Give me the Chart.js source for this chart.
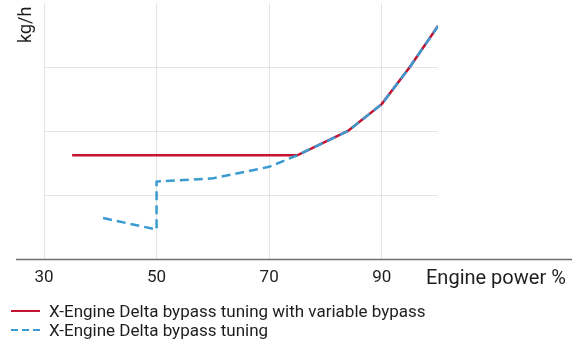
<!DOCTYPE html>
<html>
<head>
<meta charset="utf-8">
<script src="https://cdn.jsdelivr.net/npm/chart.js@4/dist/chart.umd.min.js"></script>
<style>
  html, body { margin: 0; padding: 0; background: #fff; }
  #wrap { position: relative; width: 574px; height: 350px; font-family: Roboto, sans-serif; color: #1e1e1e; }
  #chart_fuel { position: absolute; left: 0; top: 0; }
  #legend { position: absolute; left: 11px; top: 302px; font-size: 17px; line-height: 18.5px; }
  #legend .item { display: flex; align-items: center; white-space: nowrap; }
  #legend svg { margin-right: 9px; }
</style>
</head>
<body>
<div id="wrap">
  <canvas id="chart_fuel" width="574" height="350"></canvas>
  <div id="legend"></div>
</div>
<script>
// engine power %, kg/h (no y tick labels in the original)
var variableBypassPower = [35, 75, 84, 90, 95, 100];
var variableBypassFuel  = [1.62, 1.62, 2.0, 2.42, 3.0, 3.64];
var bypassPower = [40.5, 50, 50, 60, 70, 75, 84, 90, 95, 100];
var bypassFuel  = [0.64, 0.46, 1.21, 1.26, 1.44, 1.62, 2.0, 2.42, 3.0, 3.64];
var xTickLabels = [30, 50, 70, 90];
var seriesNames = ['X-Engine Delta bypass tuning with variable bypass', 'X-Engine Delta bypass tuning'];

var red = '#c41230';
var blue = '#3b9bd1';

function toPoints(xs, ys) {
    return xs.map(function (x, i) { return { x: x, y: ys[i] }; });
}

var chart_fuel = new Chart(document.getElementById('chart_fuel'), {
    type: 'line',
    data: {
        datasets: [
            {
                label: seriesNames[1],
                data: toPoints(bypassPower, bypassFuel),
                borderColor: blue,
                borderWidth: 2.5,
                borderDash: [9, 5],
                pointRadius: 0,
                tension: 0,
                order: 0
            },
            {
                label: seriesNames[0],
                data: toPoints(variableBypassPower, variableBypassFuel),
                borderColor: red,
                borderWidth: 2.5,
                pointRadius: 0,
                tension: 0,
                order: 1
            }
        ]
    },
    options: {
        animation: false,
        responsive: false,
        layout: { padding: { left: 0, right: 136, top: 3, bottom: 0 } },
        plugins: {
            legend: { display: false },
            tooltip: { enabled: false }
        },
        scales: {
            x: {
                type: 'linear',
                min: 30,
                max: 100,
                afterBuildTicks: function (scale) {
                    scale.ticks = xTickLabels.map(function (v) { return { value: v }; });
                },
                afterFit: function (scale) { scale.height = 91; },
                grid: { color: '#e4e4e4', lineWidth: 1, drawTicks: false },
                border: { display: false },
                ticks: {
                    padding: 9,
                    color: '#1e1e1e',
                    font: { family: 'Roboto', size: 17 },
                    maxRotation: 0
                }
            },
            y: {
                type: 'linear',
                min: 0,
                max: 4,
                afterFit: function (scale) { scale.width = 44; },
                grid: {
                    drawTicks: false,
                    color: function (c) {
                        var v = c.tick ? c.tick.value : 0;
                        return (v > 0 && v < 4) ? '#e4e4e4' : 'rgba(0,0,0,0)';
                    }
                },
                border: { display: false },
                ticks: { display: false, stepSize: 1 }
            }
        }
    },
    plugins: [{
        id: 'axisExtras',
        afterDraw: function (chart) {
            var ctx = chart.ctx;
            var yb = chart.scales.y.getPixelForValue(0);
            ctx.save();
            ctx.strokeStyle = '#6e6e6e';
            ctx.lineWidth = 1.5;
            ctx.beginPath();
            ctx.moveTo(16, yb + 0.5);
            ctx.lineTo(572, yb + 0.5);
            ctx.stroke();

            ctx.fillStyle = '#1e1e1e';
            ctx.font = '20px Roboto';
            ctx.textAlign = 'left';
            ctx.textBaseline = 'alphabetic';
            ctx.fillText('Engine power %', 426, 284);

            ctx.translate(31, 43);
            ctx.rotate(-Math.PI / 2);
            ctx.font = '18px Roboto';
            ctx.fillText('kg/h', 0, 0);
            ctx.restore();
        }
    }]
});

// legend under the chart, one series per row
var legendEl = document.getElementById('legend');
[{ name: seriesNames[0], color: red, dash: '' }, { name: seriesNames[1], color: blue, dash: '7 4' }].forEach(function (s) {
    var row = document.createElement('div');
    row.className = 'item';
    row.innerHTML = '<svg width="29" height="4"><line x1="0" y1="2" x2="29" y2="2" stroke="' + s.color +
        '" stroke-width="2"' + (s.dash ? ' stroke-dasharray="' + s.dash + '"' : '') + '/></svg><span></span>';
    row.querySelector('span').textContent = s.name;
    legendEl.appendChild(row);
});
</script>
</body>
</html>
